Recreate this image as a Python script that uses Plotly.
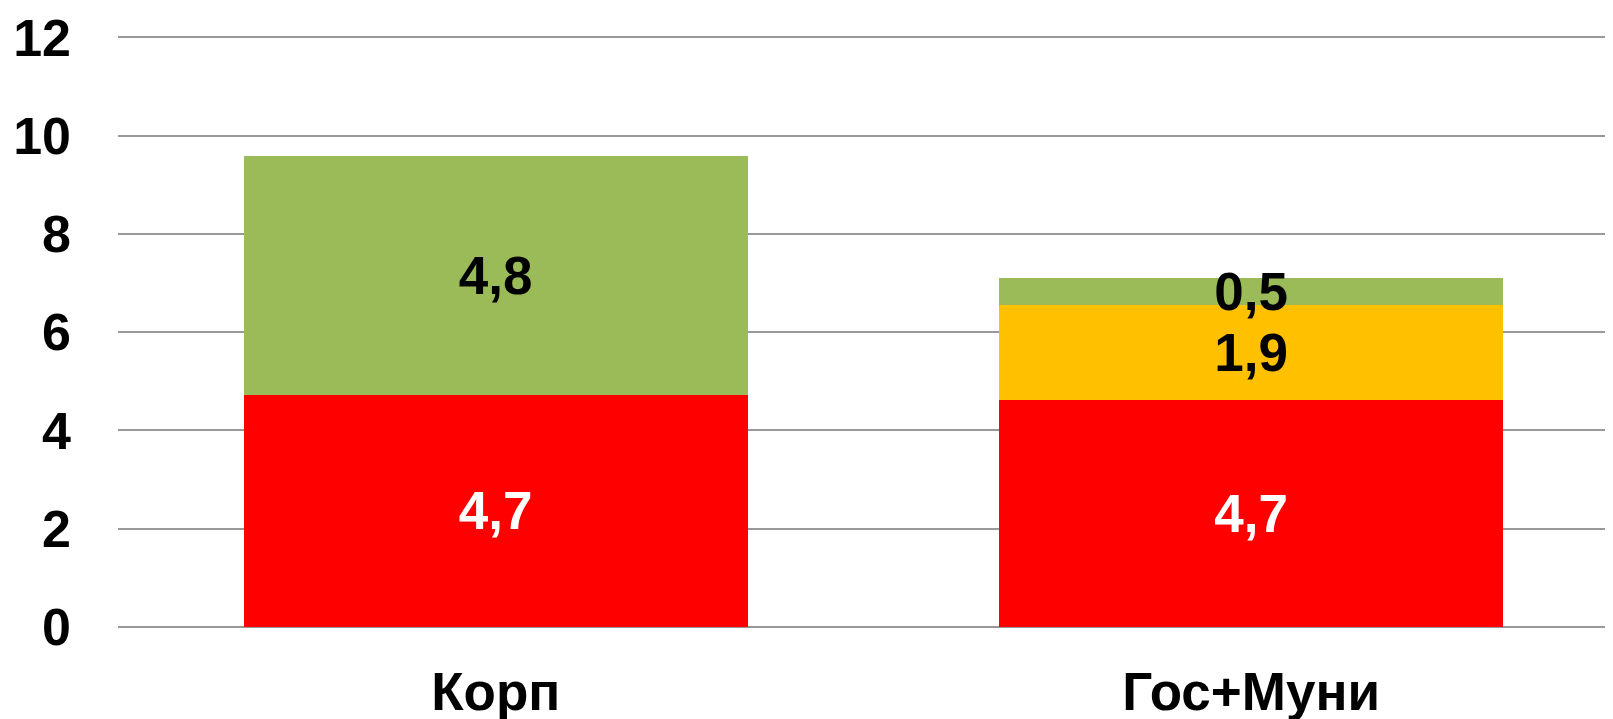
import plotly.graph_objects as go

categories = ["Корп", "Гос+Муни"]
red_values = [4.73, 4.62]
yellow_values = [0, 1.93]
green_values = [4.85, 0.55]
red_labels = ["4,7", "4,7"]
yellow_labels = ["", "1,9"]
green_labels = ["4,8", "0,5"]
y_ticks = [0, 2, 4, 6, 8, 10, 12]

FONT = "Liberation Sans, Arial, sans-serif"

fig = go.Figure()
for vals, labels, color, tcolor in [
    (red_values, red_labels, "#FF0000", "white"),
    (yellow_values, yellow_labels, "#FFC000", "black"),
    (green_values, green_labels, "#9BBB59", "black"),
]:
    fig.add_trace(go.Bar(
        x=categories, y=vals, text=labels,
        marker=dict(color=color, line=dict(width=0)),
        textposition="inside", insidetextanchor="middle",
        textfont=dict(family=FONT, size=53, color=tcolor, weight="bold"),
        width=0.667, showlegend=False, cliponaxis=False,
    ))

# page body has an 8px margin, so the figure is sized to fit the window
fig.update_layout(
    barmode="stack",
    width=1605, height=711,
    margin=dict(l=110, r=0, t=28, b=92, autoexpand=False),
    plot_bgcolor="white", paper_bgcolor="white",
    uniformtext=dict(minsize=53, mode="show"),
    font=dict(family=FONT, size=53, color="black", weight="bold"),
)
fig.update_xaxes(
    range=[-0.5, 1.479], showgrid=False, showline=False, ticks="",
    tickfont=dict(family=FONT, size=53, color="black", weight="bold"),
    ticklabelstandoff=29, automargin=False,
)
fig.update_yaxes(
    range=[0, 12.03], tickvals=y_ticks, ticktext=[str(v) for v in y_ticks],
    showgrid=True, gridcolor="#999999", gridwidth=2,
    zeroline=True, zerolinecolor="#999999", zerolinewidth=2,
    showline=False, ticks="",
    tickfont=dict(family=FONT, size=52, color="black", weight="bold"),
    ticklabelstandoff=46, automargin=False,
)

fig.write_html("out.html")
